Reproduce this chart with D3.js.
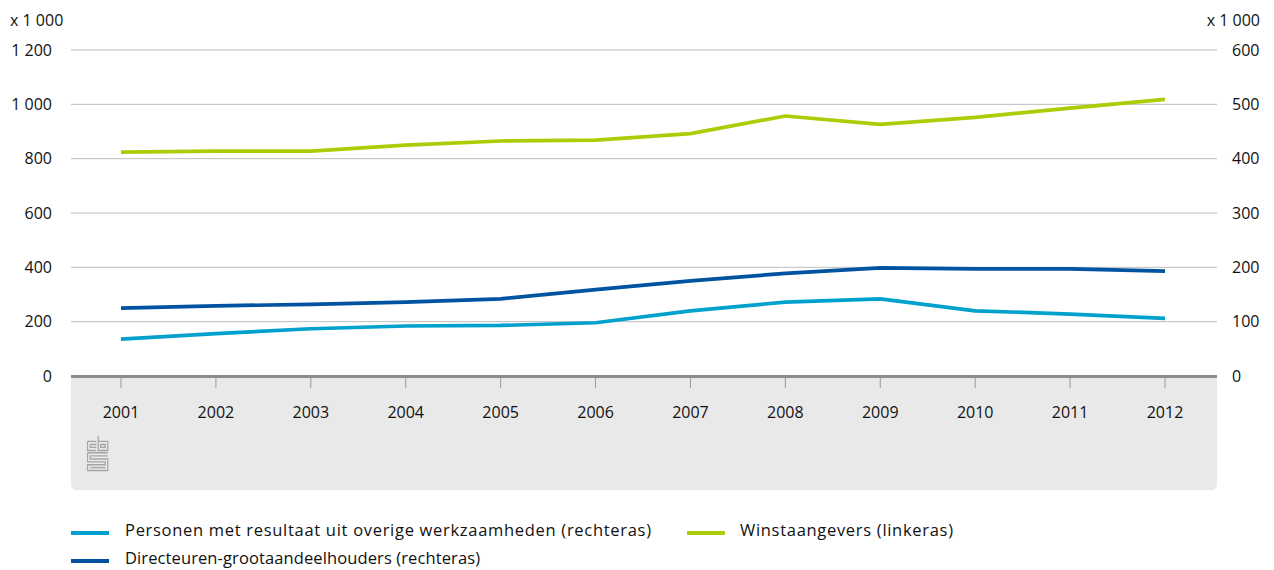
<!DOCTYPE html>
<html><head><meta charset="utf-8">
<script src="https://cdn.jsdelivr.net/npm/d3@7/dist/d3.min.js"></script>
<style>body{margin:0;background:#fff;} text{font-family:"Open Sans","Noto Sans",sans-serif;fill:#111;}</style>
</head><body><svg id="c" width="1274" height="570"></svg>
<script>
const years = [2001,2002,2003,2004,2005,2006,2007,2008,2009,2010,2011,2012];
const winst = [824,828,828,850,865,868,892,957,926,952,986,1018];
const dga = [125,129,132,136,142,159,175,189,199,197,197,193];
const personen = [68,78,87,92,93,98,120,136,142,120,114,106];
const leftTicks = [0,200,400,600,800,1000,1200];
const rightTicks = [0,100,200,300,400,500,600];
const seriesNames = ["Personen met resultaat uit overige werkzaamheden (rechteras)","Winstaangevers (linkeras)","Directeuren-grootaandeelhouders (rechteras)"];
const colors = {personen:"#00a1cd", winst:"#afcb05", dga:"#0053a1"};

const svg = d3.select("#c");
const x0 = 71, x1 = 1217, yTop = 50, yBot = 376;
const x = d3.scalePoint().domain(years).range([121,1165]);
const yL = d3.scaleLinear().domain([0,1200]).range([yBot,yTop]);
const yR = d3.scaleLinear().domain([0,600]).range([yBot,yTop]);
const fmt = v => d3.format(",")(v).replace(/,/g," ");
const FS = 16;

// gray area below axis
const r=6, gy=377, gb=490;
svg.append("path").attr("fill","#e9e9e9")
  .attr("d",`M${x0},${gy}H${x1}V${gb-r}Q${x1},${gb} ${x1-r},${gb}H${x0+r}Q${x0},${gb} ${x0},${gb-r}Z`);

// gridlines
svg.append("g").selectAll("line").data(leftTicks.filter(d=>d>0)).join("line")
  .attr("x1",x0).attr("x2",x1).attr("y1",d=>yL(d)).attr("y2",d=>yL(d))
  .attr("stroke","#bdbdbd").attr("stroke-width",1);

// axis labels
svg.append("g").selectAll("text").data(leftTicks).join("text")
  .attr("x",52).attr("y",d=>yL(d)).attr("dy","0.35em").attr("text-anchor","end")
  .attr("font-size",FS).text(fmt);
svg.append("g").selectAll("text").data(rightTicks).join("text")
  .attr("x",1232).attr("y",d=>yR(d)).attr("dy","0.35em").attr("text-anchor","start")
  .attr("font-size",FS).text(fmt);
svg.append("text").attr("x",10).attr("y",20).attr("dy","0.35em").attr("font-size",FS).text("x 1 000");
svg.append("text").attr("x",1260).attr("y",20).attr("dy","0.35em").attr("text-anchor","end").attr("font-size",FS).text("x 1 000");

// x axis
svg.append("g").selectAll("line").data(years).join("line")
  .attr("x1",d=>x(d)).attr("x2",d=>x(d)).attr("y1",377).attr("y2",388)
  .attr("stroke","#9a9a9a").attr("stroke-width",1);
svg.append("line").attr("x1",x0).attr("x2",x1).attr("y1",yBot+0.5).attr("y2",yBot+0.5)
  .attr("stroke","#8c8c8c").attr("stroke-width",3);
svg.append("g").selectAll("text").data(years).join("text")
  .attr("x",d=>x(d)).attr("y",412).attr("dy","0.35em").attr("text-anchor","middle")
  .attr("font-size",FS).text(d=>d);

// lines
function drawLine(vals, yS, col){
  const line = d3.line().x((d,i)=>x(years[i])).y(d=>yS(d));
  svg.append("path").datum(vals).attr("d",line).attr("fill","none")
    .attr("stroke",col).attr("stroke-width",3.7).attr("stroke-linejoin","miter");
}
drawLine(personen, yR, colors.personen);
drawLine(dga, yR, colors.dga);
drawLine(winst, yL, colors.winst);

// CBS logo approximation
const lg = svg.append("g").attr("transform","translate(87,435) scale(0.82,0.95)").attr("fill","none")
  .attr("stroke","#a5a5a5").attr("stroke-width",1.5);
lg.append("path").attr("d","M0.7,6.7H11.3M0.7,6.7V16.3H11.3M4,10H11.3M4,10V13H11.3");
lg.append("path").attr("d","M13.7,0.7V16.3H25.3V6.7H13.7M16.7,10H22.3V13H16.7Z");
lg.append("path").attr("d","M0.7,18.7H25.3M0.7,18.7V28.3H22.3V31.3H0.7V37.3H25.3V25.3H4V22H25.3");
lg.append("path").attr("d","M4,34.3H22.3");

// legend
const leg = [
  {name:seriesNames[0], col:colors.personen, x:71, tx:125, y:530, w:526},
  {name:seriesNames[1], col:colors.winst, x:687, tx:740, y:530, w:213},
  {name:seriesNames[2], col:colors.dga, x:71, tx:125, y:558, w:355}
];
const lgG = svg.append("g");
leg.forEach(l=>{
  lgG.append("line").attr("x1",l.x).attr("x2",l.x+38).attr("y1",l.y+3).attr("y2",l.y+3)
    .attr("stroke",l.col).attr("stroke-width",4);
  lgG.append("text").attr("x",l.tx).attr("y",l.y).attr("dy","0.35em").attr("font-size",16.5)
    .attr("textLength",l.w).attr("lengthAdjust","spacing").text(l.name);
});
</script></body></html>
